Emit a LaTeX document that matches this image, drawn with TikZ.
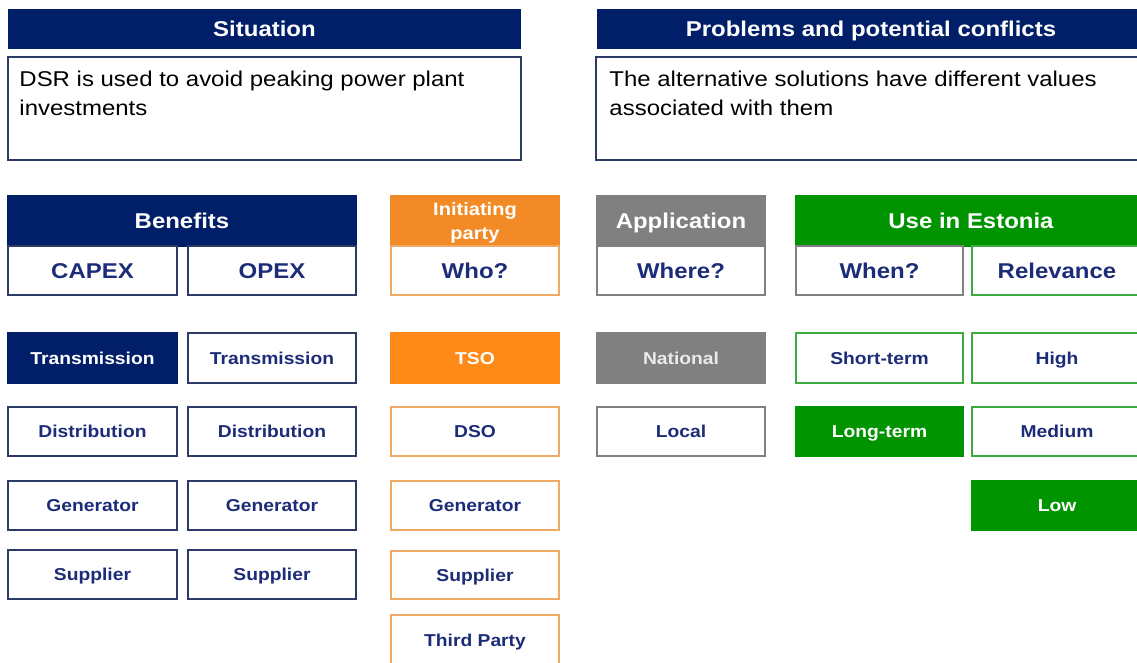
\documentclass[tikz,border=0pt]{standalone}
\usepackage{fontspec}
\setmainfont{Liberation Sans}[FakeStretch=1.12]
\definecolor{navy}{HTML}{001F68}
\definecolor{txtnavy}{HTML}{1C2C78}
\definecolor{orhead}{HTML}{F28A25}
\definecolor{orbox}{HTML}{FF8A17}
\definecolor{orline}{HTML}{F0A868}
\definecolor{gryhead}{HTML}{808080}
\definecolor{grnhead}{HTML}{009400}
\definecolor{grnline}{HTML}{3FA83F}
\definecolor{frame}{HTML}{2E3A66}
\begin{document}
\begin{tikzpicture}[x=1pt,y=-1pt,
  cell/.style={rectangle, inner sep=0pt, font=\bfseries\fontsize{17.2}{20}\selectfont, line width=1.2pt,
               text height=12.4pt, text depth=0pt},
  bigcell/.style={cell, font=\bfseries\fontsize{21.4}{25}\selectfont, text height=15.3pt},
  headcell/.style={cell, font=\bfseries\fontsize{21.4}{25}\selectfont, text=white, text height=15.3pt},
  navyfill/.style={fill=navy, draw=navy, text=white},
  navybox/.style={fill=white, draw=frame, text=txtnavy},
  orbox/.style={fill=white, draw=orline, text=txtnavy},
  grybox/.style={fill=white, draw=gryhead, text=txtnavy},
  grnbox/.style={fill=white, draw=grnline, text=txtnavy},
  textbox/.style={rectangle, draw=frame, line width=1.5pt, fill=white},
  bodytext/.style={anchor=north west, align=left, inner sep=0pt, font=\fontsize{21.4}{29}\selectfont, text=black}
]
\useasboundingbox (0,0) rectangle (1137,662);
\clip (0,0) rectangle (1137,662);

% Situation
\node[headcell, fill=navy, minimum width=513, minimum height=40] (sith) at (264.5,29) {Situation};
\node[textbox, minimum width=513, minimum height=103] (sitb) at (264.5,108.5) {};
\node[bodytext] (sitt) at ([xshift=12pt,yshift=-15pt]sitb.north west) {DSR is used to avoid peaking power plant\\investments};

% Problems
\node[headcell, fill=navy, minimum width=548, minimum height=40] (probh) at (871,29) {Problems and potential conflicts};
\node[textbox, minimum width=549, minimum height=103] (probb) at (870.5,108.5) {};
\node[bodytext] (probt) at ([xshift=14pt,yshift=-15pt]probb.north west) {The alternative solutions have different values\\associated with them};

% Benefits
\node[headcell, navyfill, minimum width=348, minimum height=50] (benh) at (182,221) {Benefits};
\node[bigcell, navybox, minimum width=169, minimum height=49] (capex) at (92.5,270.5) {CAPEX};
\node[bigcell, navybox, minimum width=168, minimum height=49] (opex) at (272,270.5) {OPEX};

\node[cell, navyfill, minimum width=169, minimum height=50] (c1) at (92.5,358) {Transmission};
\node[cell, navybox, minimum width=169, minimum height=49] (c2) at (92.5,431.5) {Distribution};
\node[cell, navybox, minimum width=169, minimum height=49] (c3) at (92.5,505.5) {Generator};
\node[cell, navybox, minimum width=169, minimum height=49] (c4) at (92.5,574.5) {Supplier};

\node[cell, navybox, minimum width=168, minimum height=50] (o1) at (272,358) {Transmission};
\node[cell, navybox, minimum width=168, minimum height=49] (o2) at (272,431.5) {Distribution};
\node[cell, navybox, minimum width=168, minimum height=49] (o3) at (272,505.5) {Generator};
\node[cell, navybox, minimum width=168, minimum height=49] (o4) at (272,574.5) {Supplier};

% Initiating party
\node[rectangle, inner sep=0pt, line width=1.2pt, fill=orhead, draw=orhead,
      minimum width=168, minimum height=50] (inih) at (475,221) {};
\node[inner sep=0pt, text=white, align=center, font=\bfseries\fontsize{17.9}{24}\selectfont]
      (initext) at ([yshift=-2pt]inih.center) {Initiating\\party};
\node[bigcell, orbox, minimum width=168, minimum height=49] (who) at (475,270.5) {Who?};
\node[cell, fill=orbox, draw=orbox, text=white, minimum width=168, minimum height=50] (i1) at (475,358) {TSO};
\node[cell, orbox, minimum width=168, minimum height=49] (i2) at (475,431.5) {DSO};
\node[cell, orbox, minimum width=168, minimum height=49] (i3) at (475,505.5) {Generator};
\node[cell, orbox, minimum width=168, minimum height=48] (i4) at (475,575) {Supplier};
\node[cell, orbox, minimum width=168, minimum height=50] (i5) at (475,640) {Third Party};

% Application
\node[headcell, fill=gryhead, draw=gryhead, minimum width=168, minimum height=50] (apph) at (681,221) {Application};
\node[bigcell, grybox, minimum width=168, minimum height=49] (where) at (681,270.5) {Where?};
\node[cell, fill=gryhead, draw=gryhead, text=white!92!black, minimum width=168, minimum height=50] (a1) at (681,358) {National};
\node[cell, grybox, minimum width=168, minimum height=49] (a2) at (681,431.5) {Local};

% Use in Estonia
\node[headcell, fill=grnhead, draw=grnhead, minimum width=350, minimum height=50] (esth) at (971,221) {Use in Estonia};
\node[bigcell, grybox, minimum width=167, minimum height=49] (when) at (879.5,270.5) {When?};
\node[bigcell, grnbox, minimum width=170, minimum height=49] (rel) at (1057,270.5) {Relevance};
\node[cell, grnbox, minimum width=167, minimum height=50] (e1) at (879.5,358) {Short-term};
\node[cell, fill=grnhead, draw=grnhead, text=white, minimum width=167, minimum height=49] (e2) at (879.5,431.5) {Long-term};
\node[cell, grnbox, minimum width=170, minimum height=50] (r1) at (1057,358) {High};
\node[cell, grnbox, minimum width=170, minimum height=49] (r2) at (1057,431.5) {Medium};
\node[cell, fill=grnhead, draw=grnhead, text=white, minimum width=170, minimum height=49] (r3) at (1057,505.5) {Low};
\end{tikzpicture}
\end{document}
